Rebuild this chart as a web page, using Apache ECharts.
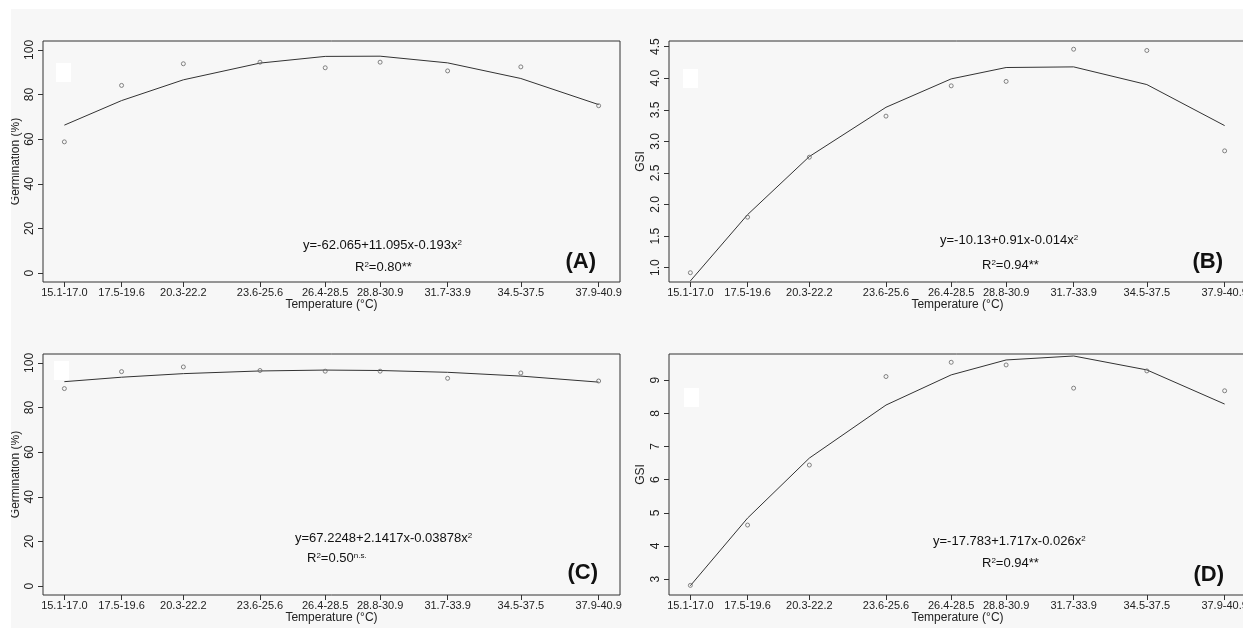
<!DOCTYPE html>
<html lang="en">
<head>
    <meta charset="UTF-8">
    <script type="text/javascript" src="https://cdn.jsdelivr.net/npm/echarts@6.0.0/dist/echarts.min.js"></script>
    <title>Germination and GSI vs temperature</title>
    <style type="text/css">
        html, body { margin: 0; padding: 0; background: #fff; overflow: hidden; }
        #chart { width: 1243px; height: 628px; }
    </style>
</head>
<body>
    <div id="chart"></div>
    <script type="text/javascript">
        // temperature classes and their midpoints (x position on the axis)
        let tempBins = ['15.1-17.0', '17.5-19.6', '20.3-22.2', '23.6-25.6', '26.4-28.5', '28.8-30.9', '31.7-33.9', '34.5-37.5', '37.9-40.9']
        let binMid = [16.05, 18.55, 21.25, 24.6, 27.45, 29.85, 32.8, 36.0, 39.4]

        // (A) germination %
        let germObsA = [58.8, 84.1, 93.8, 94.5, 92.0, 94.5, 90.6, 92.4, 75.0]
        let germFitA = [66.3, 77.3, 86.6, 94.1, 97.1, 97.2, 94.2, 87.2, 75.5]
        // (B) GSI
        let gsiObsB = [0.92, 1.80, 2.75, 3.40, 3.88, 3.95, 4.46, 4.44, 2.85]
        let gsiFitB = [0.79, 1.84, 2.76, 3.54, 3.99, 4.17, 4.18, 3.90, 3.25]
        // (C) germination %
        let germObsC = [88.5, 96.1, 98.2, 96.6, 96.3, 96.3, 93.1, 95.5, 91.9]
        let germFitC = [91.6, 93.6, 95.2, 96.4, 96.8, 96.6, 95.8, 94.1, 91.4]
        // (D) GSI
        let gsiObsD = [2.81, 4.63, 6.44, 9.11, 9.54, 9.46, 8.76, 9.28, 8.68]
        let gsiFitD = [2.80, 4.84, 6.65, 8.25, 9.16, 9.61, 9.73, 9.31, 8.28]

        let germTicks = [0, 20, 40, 60, 80, 100]
        let gsiTicksB = [1.0, 1.5, 2.0, 2.5, 3.0, 3.5, 4.0, 4.5]
        let gsiTicksD = [3, 4, 5, 6, 7, 8, 9]

        let eqA = 'y=-62.065+11.095x-0.193x{sup|2}'
        let r2A = 'R{sup|2}=0.80**'
        let eqB = 'y=-10.13+0.91x-0.014x{sup|2}'
        let r2B = 'R{sup|2}=0.94**'
        let eqC = 'y=67.2248+2.1417x-0.03878x{sup|2}'
        let r2C = 'R{sup|2}=0.50{sup|n.s.}'
        let eqD = 'y=-17.783+1.717x-0.026x{sup|2}'
        let r2D = 'R{sup|2}=0.94**'

        let font = 'Liberation Sans, Arial, sans-serif'
        let ink = '#222'

        function pair(a, b) {
            let out = []
            for (let i = 0; i < a.length; i++) out.push([a[i], b[i]])
            return out
        }

        function makeX(g) {
            return {
                type: 'value', gridIndex: g, min: 15.116, max: 40.334,
                axisLine: { show: false, onZero: false },
                splitLine: { show: false },
                axisTick: { customValues: binMid, length: 5, lineStyle: { color: '#333' } },
                axisLabel: {
                    customValues: binMid, margin: 5, fontSize: 11, fontFamily: font, color: ink,
                    formatter: function (v) { return tempBins[binMid.indexOf(v)] }
                },
                name: 'Temperature (°C)', nameLocation: 'middle', nameGap: 17,
                nameTextStyle: { fontSize: 12, fontFamily: font, color: ink }
            }
        }

        function makeY(g, min, max, ticks, name, gap, digits) {
            return {
                type: 'value', gridIndex: g, min: min, max: max,
                axisLine: { show: false, onZero: false },
                splitLine: { show: false },
                axisTick: { customValues: ticks, length: 5, lineStyle: { color: '#333' } },
                axisLabel: {
                    customValues: ticks, rotate: 90, margin: 7, fontSize: 12, fontFamily: font, color: ink,
                    formatter: function (v) { return v.toFixed(digits) }
                },
                name: name, nameLocation: 'middle', nameGap: gap, nameRotate: 90,
                nameTextStyle: { fontSize: 12, fontFamily: font, color: ink }
            }
        }

        function fitLine(g, data) {
            return {
                type: 'line', xAxisIndex: g, yAxisIndex: g, data: pair(binMid, data),
                symbol: 'none', lineStyle: { color: '#333', width: 1 }, z: 3
            }
        }

        function points(g, data) {
            return {
                type: 'scatter', xAxisIndex: g, yAxisIndex: g, data: pair(binMid, data),
                symbol: 'circle', symbolSize: 4,
                itemStyle: { color: 'rgba(0,0,0,0)', borderColor: '#666', borderWidth: 1 }, z: 4
            }
        }

        function label(x, y, text, align, size, bold) {
            return {
                type: 'text', x: x, y: y, z: 50,
                style: {
                    text: text, textAlign: align || 'left', textVerticalAlign: 'middle',
                    fontSize: size || 13, fontWeight: bold ? 'bold' : 'normal', fontFamily: font, fill: '#111',
                    rich: { sup: { fontSize: 8, verticalAlign: 'top', lineHeight: 8, fontFamily: font, fill: '#111' } }
                }
            }
        }

        function whiteBox(x, y) {
            return { type: 'rect', z: 40, shape: { x: x, y: y, width: 15, height: 19 }, style: { fill: '#fff' } }
        }

        let gridBase = {
            width: 577, height: 241, show: true, borderColor: '#333', borderWidth: 1,
            backgroundColor: 'transparent', outerBoundsMode: 'none', containLabel: false
        }

        let chart = echarts.init(document.getElementById('chart'))
        let option = {
            animation: false,
            backgroundColor: '#fff',
            grid: [
                Object.assign({ left: 43, top: 41 }, gridBase),
                Object.assign({ left: 669, top: 41 }, gridBase),
                Object.assign({ left: 43, top: 354 }, gridBase),
                Object.assign({ left: 669, top: 354 }, gridBase)
            ],
            xAxis: [makeX(0), makeX(1), makeX(2), makeX(3)],
            yAxis: [
                makeY(0, -4, 104, germTicks, 'Germination (%)', 21, 0),
                makeY(1, 0.773, 4.59, gsiTicksB, 'GSI', 22, 1),
                makeY(2, -4, 104, germTicks, 'Germination (%)', 21, 0),
                makeY(3, 2.52, 9.79, gsiTicksD, 'GSI', 22, 0)
            ],
            series: [
                fitLine(0, germFitA), points(0, germObsA),
                fitLine(1, gsiFitB), points(1, gsiObsB),
                fitLine(2, germFitC), points(2, germObsC),
                fitLine(3, gsiFitD), points(3, gsiObsD)
            ],
            graphic: [
                { type: 'rect', z: -10, silent: true, shape: { x: 11, y: 9, width: 1240, height: 625 }, style: { fill: '#f7f7f7' } },
                { type: 'rect', z: 60, silent: true, shape: { x: 0, y: 0, width: 11, height: 628 }, style: { fill: '#fff' } },
                whiteBox(56, 63), whiteBox(683, 69), whiteBox(54, 361), whiteBox(684, 388),
                label(303, 245, eqA), label(355, 267, r2A), label(596, 262, '(A)', 'right', 22, true),
                label(940, 240, eqB), label(982, 265, r2B), label(1223, 262, '(B)', 'right', 22, true),
                label(295, 538, eqC), label(307, 558, r2C), label(598, 573, '(C)', 'right', 22, true),
                label(933, 541, eqD), label(982, 563, r2D), label(1224, 575, '(D)', 'right', 22, true)
            ]
        }
        option && chart.setOption(option)
    </script>
</body>
</html>
